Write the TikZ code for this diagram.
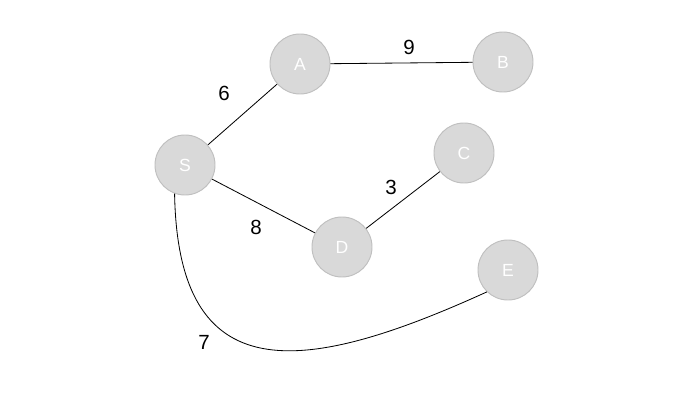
\documentclass[tikz,border=0pt]{standalone}
\usepackage{fontspec}
\setmainfont{Liberation Sans}
\definecolor{nodefill}{HTML}{D9D9D9}
\definecolor{nodeline}{HTML}{BFBFBF}
\begin{document}
\begin{tikzpicture}[
    x=0.03cm, y=-0.03cm,
    vertex/.style = {circle, draw=nodeline, fill=nodefill, line width=0.8pt, minimum size=1.8cm, inner sep=0pt, text=white, font=\fontsize{15}{15}\selectfont},
    weight/.style = {font=\fontsize{17.5}{17.5}\selectfont, inner sep=0pt},
    edge/.style = {draw, line width=0.7pt}
]
    \useasboundingbox (0,0) rectangle (700,397);

    % Nodes
    \node [vertex] (S) at (185,165) {S};
    \node [vertex] (A) at (300,64) {A};
    \node [vertex] (B) at (503,62) {B};
    \node [vertex] (C) at (464,153) {C};
    \node [vertex] (D) at (342,247) {D};
    \node [vertex] (E) at (508,270) {E};

    % Edges
    \path [edge] (S) -- (A);
    \path [edge] (A) -- (B);
    \path [edge] (S) -- (D);
    \path [edge] (D) -- (C);
    \path [edge] (S.-110) .. controls (178,390) and (300,377) .. (E.-134);

    % Weights
    \node [weight] (wSA) at (224,93) {6};
    \node [weight] (wAB) at (409,47) {9};
    \node [weight] (wDC) at (391,187) {3};
    \node [weight] (wSD) at (256,227) {8};
    \node [weight] (wSE) at (204,342) {7};

\end{tikzpicture}
\end{document}
